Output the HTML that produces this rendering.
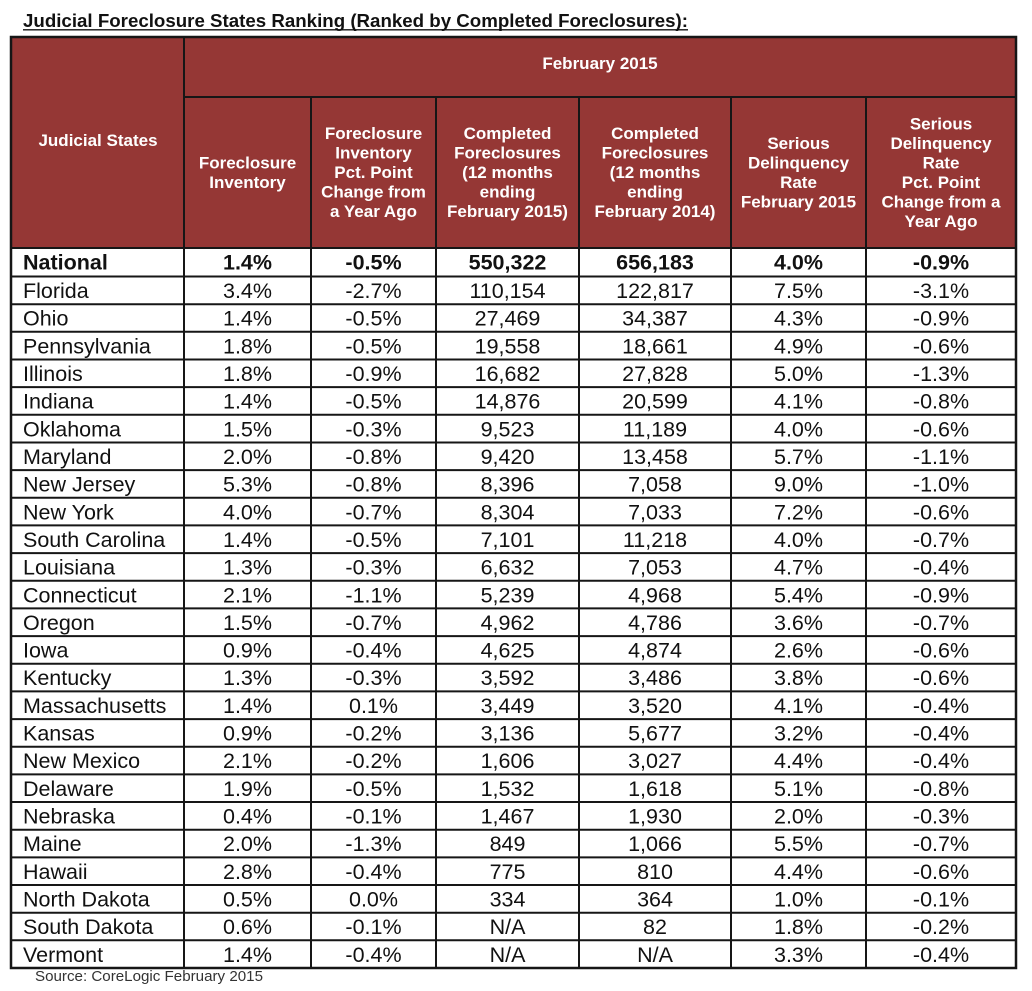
<!DOCTYPE html>
<html><head><meta charset="utf-8"><style>
html,body{margin:0;padding:0;background:#fff;}
svg{display:block;}
text{font-family:"Liberation Sans",Arial,sans-serif;}
</style></head><body>
<svg width="1032" height="991" viewBox="0 0 1032 991" xmlns="http://www.w3.org/2000/svg">
<rect x="0" y="0" width="1032" height="991" fill="#fff"/>
<text x="23" y="27" font-size="18.5" font-weight="bold" fill="#111" textLength="665" lengthAdjust="spacingAndGlyphs">Judicial Foreclosure States Ranking (Ranked by Completed Foreclosures):</text>
<line x1="23" y1="29.8" x2="688" y2="29.8" stroke="#111" stroke-width="1.4"/>
<rect x="11" y="37" width="1005" height="211" fill="#953735"/>
<g stroke="#161616" stroke-width="2" fill="none">
<rect x="11" y="37" width="1005" height="931" stroke-width="2.5"/>
<line x1="184" y1="37" x2="184" y2="968"/>
<line x1="311" y1="97" x2="311" y2="968"/>
<line x1="436" y1="97" x2="436" y2="968"/>
<line x1="579" y1="97" x2="579" y2="968"/>
<line x1="731" y1="97" x2="731" y2="968"/>
<line x1="866" y1="97" x2="866" y2="968"/>
<line x1="184" y1="97" x2="1016" y2="97"/>
<line x1="11" y1="248" x2="1016" y2="248"/>
<path d="M11 276.5H1016M11 304.2H1016M11 331.8H1016M11 359.5H1016M11 387.1H1016M11 414.8H1016M11 442.5H1016M11 470.1H1016M11 497.8H1016M11 525.4H1016M11 553.1H1016M11 580.8H1016M11 608.4H1016M11 636.1H1016M11 663.7H1016M11 691.4H1016M11 719.1H1016M11 746.7H1016M11 774.4H1016M11 802.0H1016M11 829.7H1016M11 857.4H1016M11 885.0H1016M11 912.7H1016M11 940.3H1016"/>
</g>
<g fill="#fff" font-size="17" font-weight="bold" text-anchor="middle">
<text x="600" y="69">February 2015</text>
<text x="98" y="146">Judicial States</text>
<text><tspan x="247.5" y="168.3">Foreclosure</tspan><tspan x="247.5" y="187.8">Inventory</tspan></text>
<text><tspan x="373.5" y="139">Foreclosure</tspan><tspan x="373.5" y="158.5">Inventory</tspan><tspan x="373.5" y="178">Pct. Point</tspan><tspan x="373.5" y="197.5">Change from</tspan><tspan x="373.5" y="217">a Year Ago</tspan></text>
<text><tspan x="507.5" y="139">Completed</tspan><tspan x="507.5" y="158.5">Foreclosures</tspan><tspan x="507.5" y="178">(12 months</tspan><tspan x="507.5" y="197.5">ending</tspan><tspan x="507.5" y="217">February 2015)</tspan></text>
<text><tspan x="655" y="139">Completed</tspan><tspan x="655" y="158.5">Foreclosures</tspan><tspan x="655" y="178">(12 months</tspan><tspan x="655" y="197.5">ending</tspan><tspan x="655" y="217">February 2014)</tspan></text>
<text><tspan x="798.5" y="148.8">Serious</tspan><tspan x="798.5" y="168.3">Delinquency</tspan><tspan x="798.5" y="187.8">Rate</tspan><tspan x="798.5" y="207.3">February 2015</tspan></text>
<text><tspan x="941" y="129.3">Serious</tspan><tspan x="941" y="148.8">Delinquency</tspan><tspan x="941" y="168.3">Rate</tspan><tspan x="941" y="187.8">Pct. Point</tspan><tspan x="941" y="207.3">Change from a</tspan><tspan x="941" y="226.8">Year Ago</tspan></text>
</g>
<g fill="#111" font-size="21.5" font-weight="bold">
<text x="23" y="269.5">National</text>
<g text-anchor="middle">
<text x="247.5" y="269.5">1.4%</text>
<text x="373.5" y="269.5">-0.5%</text>
<text x="507.5" y="269.5">550,322</text>
<text x="655" y="269.5">656,183</text>
<text x="798.5" y="269.5">4.0%</text>
<text x="941" y="269.5">-0.9%</text>
</g>
</g>
<g fill="#111" font-size="21.5">
<text><tspan x="23" y="298">Florida</tspan><tspan x="23" y="325.7">Ohio</tspan><tspan x="23" y="353.3">Pennsylvania</tspan><tspan x="23" y="381">Illinois</tspan><tspan x="23" y="408.6">Indiana</tspan><tspan x="23" y="436.3">Oklahoma</tspan><tspan x="23" y="464">Maryland</tspan><tspan x="23" y="491.6">New Jersey</tspan><tspan x="23" y="519.3">New York</tspan><tspan x="23" y="546.9">South Carolina</tspan><tspan x="23" y="574.6">Louisiana</tspan><tspan x="23" y="602.3">Connecticut</tspan><tspan x="23" y="629.9">Oregon</tspan><tspan x="23" y="657.6">Iowa</tspan><tspan x="23" y="685.2">Kentucky</tspan><tspan x="23" y="712.9">Massachusetts</tspan><tspan x="23" y="740.6">Kansas</tspan><tspan x="23" y="768.2">New Mexico</tspan><tspan x="23" y="795.9">Delaware</tspan><tspan x="23" y="823.5">Nebraska</tspan><tspan x="23" y="851.2">Maine</tspan><tspan x="23" y="878.9">Hawaii</tspan><tspan x="23" y="906.5">North Dakota</tspan><tspan x="23" y="934.2">South Dakota</tspan><tspan x="23" y="961.8">Vermont</tspan></text>
<g text-anchor="middle">
<text><tspan x="247.5" y="298">3.4%</tspan><tspan x="247.5" y="325.7">1.4%</tspan><tspan x="247.5" y="353.3">1.8%</tspan><tspan x="247.5" y="381">1.8%</tspan><tspan x="247.5" y="408.6">1.4%</tspan><tspan x="247.5" y="436.3">1.5%</tspan><tspan x="247.5" y="464">2.0%</tspan><tspan x="247.5" y="491.6">5.3%</tspan><tspan x="247.5" y="519.3">4.0%</tspan><tspan x="247.5" y="546.9">1.4%</tspan><tspan x="247.5" y="574.6">1.3%</tspan><tspan x="247.5" y="602.3">2.1%</tspan><tspan x="247.5" y="629.9">1.5%</tspan><tspan x="247.5" y="657.6">0.9%</tspan><tspan x="247.5" y="685.2">1.3%</tspan><tspan x="247.5" y="712.9">1.4%</tspan><tspan x="247.5" y="740.6">0.9%</tspan><tspan x="247.5" y="768.2">2.1%</tspan><tspan x="247.5" y="795.9">1.9%</tspan><tspan x="247.5" y="823.5">0.4%</tspan><tspan x="247.5" y="851.2">2.0%</tspan><tspan x="247.5" y="878.9">2.8%</tspan><tspan x="247.5" y="906.5">0.5%</tspan><tspan x="247.5" y="934.2">0.6%</tspan><tspan x="247.5" y="961.8">1.4%</tspan></text>
<text><tspan x="373.5" y="298">-2.7%</tspan><tspan x="373.5" y="325.7">-0.5%</tspan><tspan x="373.5" y="353.3">-0.5%</tspan><tspan x="373.5" y="381">-0.9%</tspan><tspan x="373.5" y="408.6">-0.5%</tspan><tspan x="373.5" y="436.3">-0.3%</tspan><tspan x="373.5" y="464">-0.8%</tspan><tspan x="373.5" y="491.6">-0.8%</tspan><tspan x="373.5" y="519.3">-0.7%</tspan><tspan x="373.5" y="546.9">-0.5%</tspan><tspan x="373.5" y="574.6">-0.3%</tspan><tspan x="373.5" y="602.3">-1.1%</tspan><tspan x="373.5" y="629.9">-0.7%</tspan><tspan x="373.5" y="657.6">-0.4%</tspan><tspan x="373.5" y="685.2">-0.3%</tspan><tspan x="373.5" y="712.9">0.1%</tspan><tspan x="373.5" y="740.6">-0.2%</tspan><tspan x="373.5" y="768.2">-0.2%</tspan><tspan x="373.5" y="795.9">-0.5%</tspan><tspan x="373.5" y="823.5">-0.1%</tspan><tspan x="373.5" y="851.2">-1.3%</tspan><tspan x="373.5" y="878.9">-0.4%</tspan><tspan x="373.5" y="906.5">0.0%</tspan><tspan x="373.5" y="934.2">-0.1%</tspan><tspan x="373.5" y="961.8">-0.4%</tspan></text>
<text><tspan x="507.5" y="298">110,154</tspan><tspan x="507.5" y="325.7">27,469</tspan><tspan x="507.5" y="353.3">19,558</tspan><tspan x="507.5" y="381">16,682</tspan><tspan x="507.5" y="408.6">14,876</tspan><tspan x="507.5" y="436.3">9,523</tspan><tspan x="507.5" y="464">9,420</tspan><tspan x="507.5" y="491.6">8,396</tspan><tspan x="507.5" y="519.3">8,304</tspan><tspan x="507.5" y="546.9">7,101</tspan><tspan x="507.5" y="574.6">6,632</tspan><tspan x="507.5" y="602.3">5,239</tspan><tspan x="507.5" y="629.9">4,962</tspan><tspan x="507.5" y="657.6">4,625</tspan><tspan x="507.5" y="685.2">3,592</tspan><tspan x="507.5" y="712.9">3,449</tspan><tspan x="507.5" y="740.6">3,136</tspan><tspan x="507.5" y="768.2">1,606</tspan><tspan x="507.5" y="795.9">1,532</tspan><tspan x="507.5" y="823.5">1,467</tspan><tspan x="507.5" y="851.2">849</tspan><tspan x="507.5" y="878.9">775</tspan><tspan x="507.5" y="906.5">334</tspan><tspan x="507.5" y="934.2">N/A</tspan><tspan x="507.5" y="961.8">N/A</tspan></text>
<text><tspan x="655" y="298">122,817</tspan><tspan x="655" y="325.7">34,387</tspan><tspan x="655" y="353.3">18,661</tspan><tspan x="655" y="381">27,828</tspan><tspan x="655" y="408.6">20,599</tspan><tspan x="655" y="436.3">11,189</tspan><tspan x="655" y="464">13,458</tspan><tspan x="655" y="491.6">7,058</tspan><tspan x="655" y="519.3">7,033</tspan><tspan x="655" y="546.9">11,218</tspan><tspan x="655" y="574.6">7,053</tspan><tspan x="655" y="602.3">4,968</tspan><tspan x="655" y="629.9">4,786</tspan><tspan x="655" y="657.6">4,874</tspan><tspan x="655" y="685.2">3,486</tspan><tspan x="655" y="712.9">3,520</tspan><tspan x="655" y="740.6">5,677</tspan><tspan x="655" y="768.2">3,027</tspan><tspan x="655" y="795.9">1,618</tspan><tspan x="655" y="823.5">1,930</tspan><tspan x="655" y="851.2">1,066</tspan><tspan x="655" y="878.9">810</tspan><tspan x="655" y="906.5">364</tspan><tspan x="655" y="934.2">82</tspan><tspan x="655" y="961.8">N/A</tspan></text>
<text><tspan x="798.5" y="298">7.5%</tspan><tspan x="798.5" y="325.7">4.3%</tspan><tspan x="798.5" y="353.3">4.9%</tspan><tspan x="798.5" y="381">5.0%</tspan><tspan x="798.5" y="408.6">4.1%</tspan><tspan x="798.5" y="436.3">4.0%</tspan><tspan x="798.5" y="464">5.7%</tspan><tspan x="798.5" y="491.6">9.0%</tspan><tspan x="798.5" y="519.3">7.2%</tspan><tspan x="798.5" y="546.9">4.0%</tspan><tspan x="798.5" y="574.6">4.7%</tspan><tspan x="798.5" y="602.3">5.4%</tspan><tspan x="798.5" y="629.9">3.6%</tspan><tspan x="798.5" y="657.6">2.6%</tspan><tspan x="798.5" y="685.2">3.8%</tspan><tspan x="798.5" y="712.9">4.1%</tspan><tspan x="798.5" y="740.6">3.2%</tspan><tspan x="798.5" y="768.2">4.4%</tspan><tspan x="798.5" y="795.9">5.1%</tspan><tspan x="798.5" y="823.5">2.0%</tspan><tspan x="798.5" y="851.2">5.5%</tspan><tspan x="798.5" y="878.9">4.4%</tspan><tspan x="798.5" y="906.5">1.0%</tspan><tspan x="798.5" y="934.2">1.8%</tspan><tspan x="798.5" y="961.8">3.3%</tspan></text>
<text><tspan x="941" y="298">-3.1%</tspan><tspan x="941" y="325.7">-0.9%</tspan><tspan x="941" y="353.3">-0.6%</tspan><tspan x="941" y="381">-1.3%</tspan><tspan x="941" y="408.6">-0.8%</tspan><tspan x="941" y="436.3">-0.6%</tspan><tspan x="941" y="464">-1.1%</tspan><tspan x="941" y="491.6">-1.0%</tspan><tspan x="941" y="519.3">-0.6%</tspan><tspan x="941" y="546.9">-0.7%</tspan><tspan x="941" y="574.6">-0.4%</tspan><tspan x="941" y="602.3">-0.9%</tspan><tspan x="941" y="629.9">-0.7%</tspan><tspan x="941" y="657.6">-0.6%</tspan><tspan x="941" y="685.2">-0.6%</tspan><tspan x="941" y="712.9">-0.4%</tspan><tspan x="941" y="740.6">-0.4%</tspan><tspan x="941" y="768.2">-0.4%</tspan><tspan x="941" y="795.9">-0.8%</tspan><tspan x="941" y="823.5">-0.3%</tspan><tspan x="941" y="851.2">-0.7%</tspan><tspan x="941" y="878.9">-0.6%</tspan><tspan x="941" y="906.5">-0.1%</tspan><tspan x="941" y="934.2">-0.2%</tspan><tspan x="941" y="961.8">-0.4%</tspan></text>
</g>
</g>
<text x="35" y="981" font-size="14.5" fill="#333" textLength="228" lengthAdjust="spacingAndGlyphs">Source: CoreLogic February 2015</text>
</svg>
</body></html>
